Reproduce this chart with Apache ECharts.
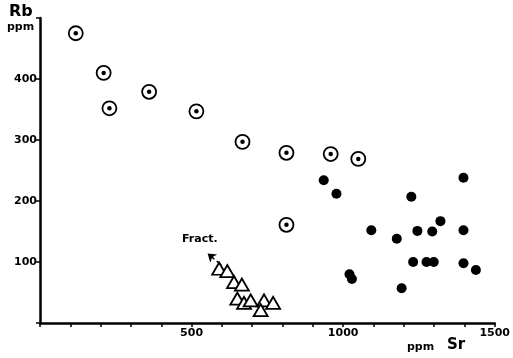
<!DOCTYPE html>
<html>
<head>
<meta charset="utf-8">
<script src="https://cdn.jsdelivr.net/npm/echarts@6/dist/echarts.min.js"></script>
<style>
  html, body { margin: 0; padding: 0; background: #fff; }
  #chart { width: 513px; height: 358px; }
</style>
</head>
<body>
<div id="chart"></div>
<script>
// Sr (ppm), Rb (ppm)
const openCircles = [
  [118, 475], [210, 410], [229, 352], [360, 379], [516, 347],
  [668, 297], [813, 279], [959, 277], [1050, 269], [813, 161]
];
const filledDots = [
  [936, 234], [978, 212], [1397, 238], [1225, 207], [1321, 167],
  [1093, 152], [1245, 151], [1294, 150], [1397, 152], [1177, 138],
  [1231, 100], [1275, 100], [1299, 100], [1397, 98], [1438, 87],
  [1021, 80], [1029, 72], [1193, 57]
];
const triangles = [
  [591, 89], [618, 85], [640, 67], [666, 63], [651, 40],
  [673, 33], [695, 37], [739, 37], [769, 33], [728, 21]
];
const fractArrow = [[598, 95], [553, 114]];
const xLabels = [500, 1000, 1500];
const yLabels = [100, 200, 300, 400];

const font = '"DejaVu Sans", sans-serif';
const myChart = echarts.init(document.getElementById('chart'));

const option = {
  animation: false,
  backgroundColor: '#fff',
  grid: { left: 40, right: 16, top: 18, bottom: 35 },
  xAxis: {
    type: 'value',
    min: 0, max: 1500, interval: 100,
    axisLine: { show: true, onZero: false, lineStyle: { color: '#000', width: 2.5 } },
    axisTick: { show: true, length: 4, lineStyle: { color: '#000', width: 1.5 } },
    axisLabel: {
      color: '#000', fontFamily: font, fontWeight: 'bold', fontSize: 11, margin: 5,
      formatter: v => xLabels.includes(v) ? String(v) : ''
    },
    splitLine: { show: false }
  },
  yAxis: {
    type: 'value',
    min: 0, max: 500, interval: 100,
    axisLine: { show: true, onZero: false, lineStyle: { color: '#000', width: 2.5 } },
    axisTick: { show: true, length: 4, lineStyle: { color: '#000', width: 1.5 } },
    axisLabel: {
      color: '#000', fontFamily: font, fontWeight: 'bold', fontSize: 11, margin: 3,
      formatter: v => yLabels.includes(v) ? String(v) : ''
    },
    splitLine: { show: false }
  },
  graphic: [
    { type: 'text', left: 9, top: 4, style: { text: 'Rb', fontFamily: font, fontWeight: 'bold', fontSize: 16, fill: '#000' } },
    { type: 'text', left: 7, top: 22, style: { text: 'ppm', fontFamily: font, fontWeight: 'bold', fontSize: 11, fill: '#000' } },
    { type: 'text', left: 407, top: 342, style: { text: 'ppm', fontFamily: font, fontWeight: 'bold', fontSize: 11, fill: '#000' } },
    { type: 'text', left: 447, top: 338, style: { text: 'Sr', fontFamily: font, fontWeight: 'bold', fontSize: 15, fill: '#000' } },
    { type: 'text', left: 182, top: 234, style: { text: 'Fract.', fontFamily: font, fontWeight: 'bold', fontSize: 11, fill: '#000' } }
  ],
  series: [
    {
      type: 'scatter',
      data: openCircles,
      symbol: 'circle', symbolSize: 14,
      itemStyle: { color: '#fff', borderColor: '#000', borderWidth: 1.8, opacity: 1 },
      z: 2
    },
    {
      type: 'scatter',
      data: openCircles,
      symbol: 'circle', symbolSize: 4.5,
      itemStyle: { color: '#000', opacity: 1 },
      z: 3
    },
    {
      type: 'scatter',
      data: filledDots,
      symbol: 'circle', symbolSize: 10,
      itemStyle: { color: '#000', opacity: 1 },
      z: 2
    },
    {
      type: 'scatter',
      data: triangles,
      symbol: 'triangle', symbolSize: [14, 12],
      itemStyle: { color: '#fff', borderColor: '#000', borderWidth: 1.8, opacity: 1 },
      z: 4,
      markLine: {
        silent: true,
        symbol: ['none', 'arrow'],
        symbolSize: 8,
        label: { show: false },
        lineStyle: { color: '#000', type: 'dashed', width: 1.5 },
        data: [[{ coord: fractArrow[0] }, { coord: fractArrow[1] }]]
      }
    }
  ]
};

myChart.setOption(option);
</script>
</body>
</html>
